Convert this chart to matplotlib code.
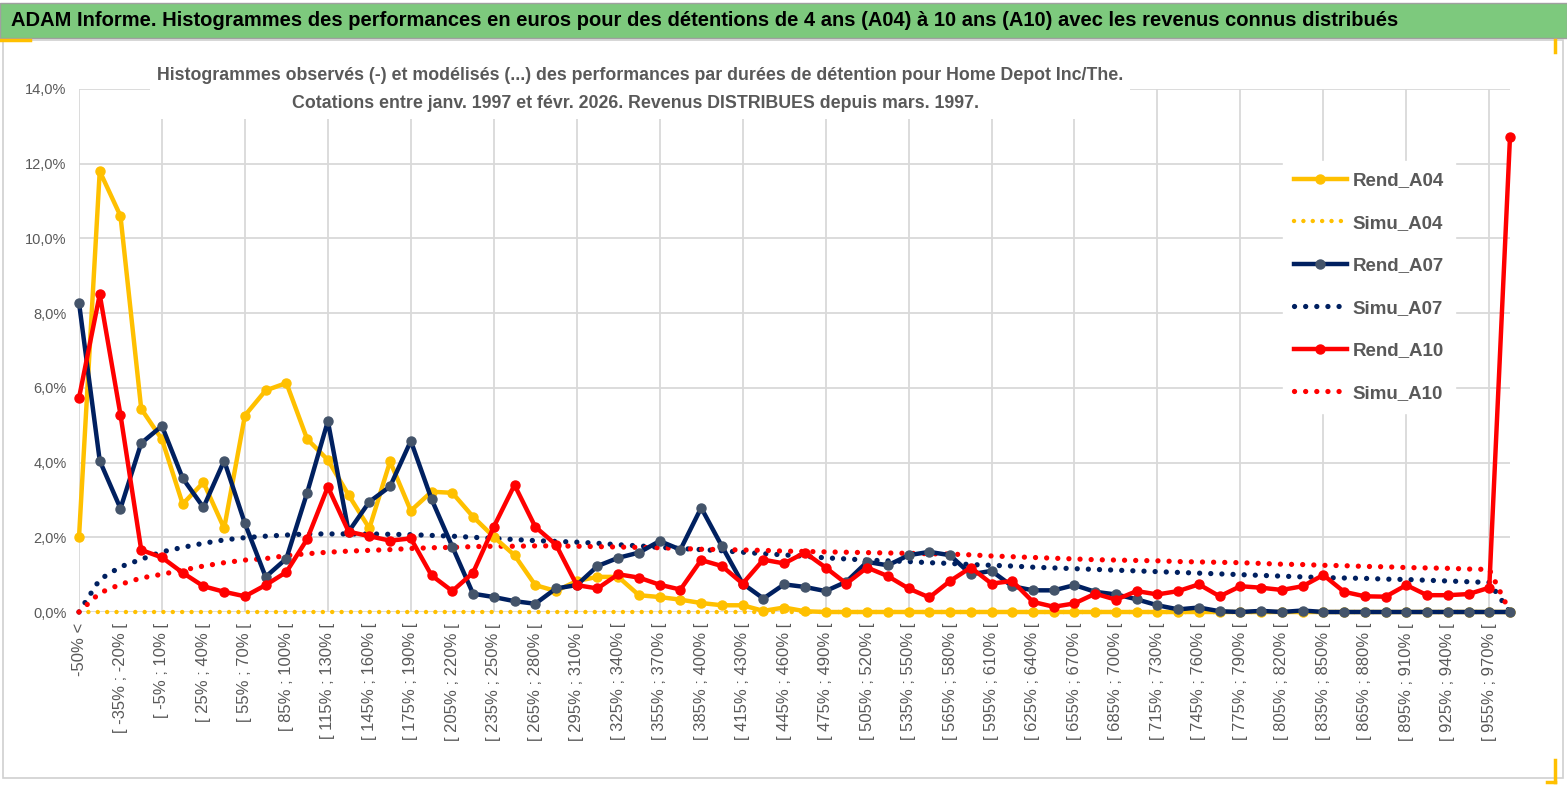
import matplotlib
matplotlib.use("Agg")
import matplotlib.pyplot as plt
from matplotlib.patches import Rectangle
from matplotlib.lines import Line2D

plt.rcParams['font.family'] = ['Liberation Sans Narrow', 'Liberation Sans', 'DejaVu Sans']

# categories: "-50% <", then 15% wide bins up to 970%, then "970% <"
cat_labels = ["-50% <"]
for lo in range(-50, 970, 15):
    cat_labels.append(f"[ {lo}% ; {lo + 15}% [")
cat_labels.append("970% <")

rend_a04 = [2.0, 11.8, 10.6, 5.44, 4.62, 2.89, 3.47, 2.24, 5.26, 5.93,
            6.13, 4.63, 4.07, 3.13, 2.24, 4.03, 2.71, 3.22, 3.19, 2.55,
            2.01, 1.52, 0.72, 0.56, 0.83, 0.94, 0.94, 0.45, 0.40, 0.33,
            0.24, 0.18, 0.18, 0.03, 0.12, 0.02, 0.0, 0.0, 0.0, 0.0,
            0.0, 0.0, 0.0, 0.0, 0.0, 0.0, 0.0, 0.0, 0.0, 0.0,
            0.0, 0.0, 0.0, 0.0, 0.0, 0.0, 0.0, 0.0, 0.0, 0.0,
            0.0, 0.0, 0.0, 0.0, 0.0, 0.0, 0.0, 0.0, 0.0, 0.0]

simu_a04 = [0.0] * 70

rend_a07 = [8.28, 4.05, 2.77, 4.52, 4.98, 3.58, 2.80, 4.05, 2.37, 0.94,
            1.43, 3.19, 5.11, 2.15, 2.95, 3.36, 4.58, 3.02, 1.75, 0.49,
            0.40, 0.29, 0.22, 0.63, 0.72, 1.23, 1.45, 1.59, 1.90, 1.67,
            2.79, 1.76, 0.76, 0.36, 0.74, 0.67, 0.56, 0.81, 1.34, 1.25,
            1.52, 1.61, 1.52, 1.01, 1.10, 0.69, 0.58, 0.58, 0.72, 0.54,
            0.47, 0.34, 0.18, 0.07, 0.12, 0.02, 0.0, 0.03, 0.0, 0.04,
            0.0, 0.0, 0.0, 0.0, 0.0, 0.0, 0.0, 0.0, 0.0, 0.0]

simu_a07 = [0.0, 0.87, 1.21, 1.41, 1.61, 1.73, 1.84, 1.93, 1.99, 2.03,
            2.06, 2.09, 2.09, 2.09, 2.09, 2.08, 2.07, 2.05, 2.03, 2.00,
            1.97, 1.94, 1.91, 1.89, 1.87, 1.84, 1.80, 1.77, 1.73, 1.70,
            1.67, 1.64, 1.60, 1.56, 1.53, 1.49, 1.45, 1.42, 1.39, 1.37,
            1.35, 1.32, 1.30, 1.27, 1.25, 1.23, 1.20, 1.18, 1.16, 1.14,
            1.12, 1.10, 1.08, 1.06, 1.04, 1.02, 1.00, 0.98, 0.96, 0.94,
            0.92, 0.91, 0.90, 0.88, 0.87, 0.85, 0.83, 0.81, 0.79, 0.0]

rend_a10 = [5.73, 8.50, 5.28, 1.66, 1.46, 1.05, 0.69, 0.54, 0.42, 0.72,
            1.07, 1.95, 3.35, 2.15, 2.03, 1.91, 1.97, 0.98, 0.56, 1.05,
            2.28, 3.40, 2.28, 1.80, 0.72, 0.63, 1.01, 0.92, 0.73, 0.60,
            1.39, 1.23, 0.76, 1.40, 1.30, 1.59, 1.19, 0.76, 1.19, 0.96,
            0.63, 0.39, 0.83, 1.19, 0.76, 0.83, 0.27, 0.14, 0.23, 0.49,
            0.33, 0.56, 0.47, 0.56, 0.74, 0.42, 0.69, 0.65, 0.59, 0.69,
            0.99, 0.54, 0.42, 0.41, 0.72, 0.45, 0.45, 0.48, 0.65, 12.72]

simu_a10 = [0.0, 0.51, 0.74, 0.91, 1.01, 1.12, 1.23, 1.32, 1.39, 1.43,
            1.51, 1.56, 1.60, 1.63, 1.65, 1.67, 1.70, 1.72, 1.73, 1.75,
            1.76, 1.76, 1.77, 1.77, 1.76, 1.75, 1.74, 1.73, 1.72, 1.70,
            1.68, 1.67, 1.66, 1.65, 1.63, 1.62, 1.61, 1.60, 1.59, 1.58,
            1.57, 1.56, 1.55, 1.53, 1.50, 1.48, 1.46, 1.44, 1.42, 1.40,
            1.39, 1.38, 1.37, 1.35, 1.34, 1.33, 1.32, 1.30, 1.28, 1.27,
            1.25, 1.24, 1.22, 1.21, 1.19, 1.18, 1.17, 1.15, 1.14, 0.0]

YELLOW = "#FFC000"
NAVY = "#002060"
RED = "#FF0000"
GREY_TXT = "#595959"
GRID = "#D9D9D9"

fig = plt.figure(figsize=(15.67, 7.91), dpi=100)

# banner + chart frame (behind the axes)
fig.patches.append(Rectangle((0, 1 - 38 / 791), 1, 35 / 791, transform=fig.transFigure,
                             facecolor="#7DC97D", edgecolor="#A0A0A0", lw=1, zorder=-2))
fig.patches.append(Rectangle((0.002, 1 - 778 / 791), 0.9955, 738 / 791, transform=fig.transFigure,
                             facecolor="white", edgecolor="#D0D0D0", lw=1.2, zorder=-2))
fig.text(0.007, 1 - 21 / 791, "ADAM Informe. Histogrammes des performances en euros pour des détentions "
         "de 4 ans (A04) à 10 ans (A10) avec les revenus connus distribués",
         fontsize=14.5, fontweight="bold", color="black", va="center", ha="left")
# little yellow selection corners
for xs, ys in [([0, 30 / 1567], [1 - 40 / 791] * 2),
               ([1 - 12 / 1567, 1 - 12 / 1567], [1 - 40 / 791, 1 - 52 / 791]),
               ([1 - 12 / 1567, 1 - 12 / 1567], [1 - 760 / 791, 1 - 782 / 791]),
               ([1 - 20 / 1567, 1 - 12 / 1567], [1 - 782 / 791] * 2)]:
    fig.lines.append(Line2D(xs, ys, transform=fig.transFigure, color=YELLOW, lw=2.5))

ax = fig.add_axes([79 / 1567, 1 - 612 / 791, (1510 - 79) / 1567, (612 - 89) / 791])
ax.patch.set_alpha(0)
x = list(range(len(cat_labels)))

dot = (0, (0.01, 2.1))
ax.plot(x, rend_a04, color=YELLOW, lw=3.2, marker="o", ms=6.5, mfc=YELLOW, mec=YELLOW,
        label="Rend_A04", zorder=3, clip_on=False)
ax.plot(x, simu_a04, color=YELLOW, lw=3.2, ls=dot, dash_capstyle="round",
        label="Simu_A04", zorder=2, clip_on=False)
ax.plot(x, rend_a07, color=NAVY, lw=3.2, marker="o", ms=6.5, mfc="#44546A", mec="#44546A",
        label="Rend_A07", zorder=4, clip_on=False)
ax.plot(x, simu_a07, color=NAVY, lw=3.8, ls=dot, dash_capstyle="round",
        label="Simu_A07", zorder=2, clip_on=False)
ax.plot(x, rend_a10, color=RED, lw=3.2, marker="o", ms=6.5, mfc=RED, mec=RED,
        label="Rend_A10", zorder=5, clip_on=False)
ax.plot(x, simu_a10, color=RED, lw=3.8, ls=dot, dash_capstyle="round",
        label="Simu_A10", zorder=2, clip_on=False)

ax.set_xlim(0, len(cat_labels) - 1)
ax.set_ylim(0, 14)
ax.set_yticks(range(0, 15, 2))
ax.set_yticklabels([f"{v},0%" for v in range(0, 15, 2)], color=GREY_TXT, fontsize=10.5)

major = list(range(0, len(cat_labels), 4))
minor = list(range(2, len(cat_labels), 4))
ax.set_xticks(major)
ax.set_xticklabels([cat_labels[i] for i in major], rotation=90, fontsize=12, color=GREY_TXT)
ax.set_xticks(minor, minor=True)
ax.set_xticklabels([cat_labels[i] for i in minor], minor=True, rotation=90, fontsize=12,
                   color=GREY_TXT)
ax.tick_params(axis="both", which="both", length=0)
ax.tick_params(axis="x", which="both", pad=8)
ax.tick_params(axis="y", pad=9)
ax.grid(True, which="major", color=GRID, lw=1.3)
ax.set_axisbelow(True)
for s in ax.spines.values():
    s.set_visible(False)

leg = ax.legend(loc="upper right", bbox_to_anchor=(0.968, 0.88), frameon=True, fancybox=False,
                edgecolor="white", facecolor="white", framealpha=1, handlelength=2.8,
                labelspacing=1.35, borderpad=0.6, handletextpad=0.3,
                prop={"weight": "bold", "size": 13.5})
for t in leg.get_texts():
    t.set_color(GREY_TXT)

# chart title sits in a white box over the top of the plot area
fig.patches.append(Rectangle((150 / 1567, 1 - 119 / 791), 980 / 1567, 60 / 791,
                             transform=fig.transFigure, facecolor="white", edgecolor="none",
                             zorder=1))
fig.text(640 / 1567, 1 - 75 / 791,
         "Histogrammes observés (-) et modélisés (...) des performances par durées de détention pour Home Depot Inc/The.",
         ha="center", va="center", fontsize=12.8, fontweight="bold", color=GREY_TXT, zorder=2)
fig.text(636 / 1567, 1 - 103 / 791,
         "Cotations entre janv. 1997 et févr. 2026. Revenus DISTRIBUES depuis mars. 1997.",
         ha="center", va="center", fontsize=12.8, fontweight="bold", color=GREY_TXT, zorder=2)

fig.savefig("out.png", dpi=100)
